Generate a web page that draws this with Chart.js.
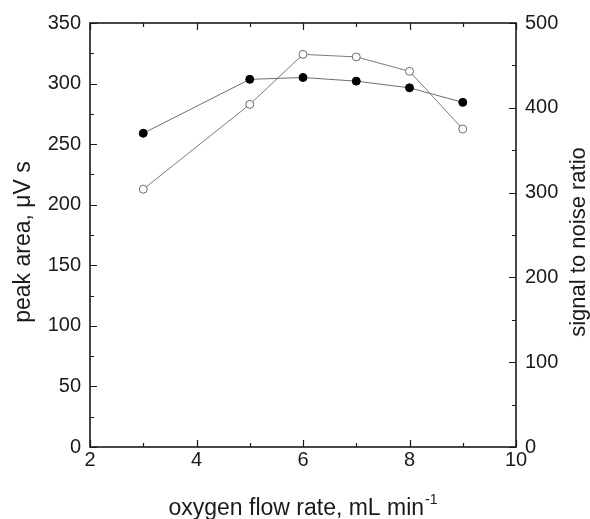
<!DOCTYPE html>
<html>
<head>
<meta charset="utf-8">
<script src="https://cdn.jsdelivr.net/npm/chart.js@4"></script>
<style>
  html, body { margin: 0; padding: 0; background: #fff; }
  canvas { display: block; }
</style>
</head>
<body>
<canvas id="chart" width="590" height="519"></canvas>
<script>
// oxygen flow rate, mL/min
const flowRates = [3, 5, 6, 7, 8, 9];
// filled circles, left axis
const peakArea = [259, 303.5, 305, 302, 296.5, 284.5];
// open circles, right axis
const signalToNoise = [304, 404, 463, 460, 443, 375];

const xTitle = 'oxygen flow rate, mL min';
const xTitleSup = '-1';
const leftTitle = 'peak area, \u03bcV s';
const rightTitle = 'signal to noise ratio';

const FONT = '"Liberation Sans", Arial, Helvetica, sans-serif';
const INK = '#1a1a1a';

function isMultiple(v, step) {
    return Math.abs(v / step - Math.round(v / step)) < 1e-6;
}

// frame, inward ticks and axis titles
const frameAndTitles = {
    id: 'frameAndTitles',
    afterDraw(chart) {
        const ctx = chart.ctx;
        const a = chart.chartArea;
        const sx = chart.scales.x, sy = chart.scales.y, sy1 = chart.scales.y1;
        ctx.save();
        ctx.strokeStyle = INK;
        ctx.lineWidth = 1.2;

        ctx.beginPath();
        sx.ticks.forEach(t => {
            const px = Math.round(sx.getPixelForValue(t.value)) + 0.5;
            const len = isMultiple(t.value, 2) ? 7 : 4;
            ctx.moveTo(px, a.bottom); ctx.lineTo(px, a.bottom - len);
            ctx.moveTo(px, a.top); ctx.lineTo(px, a.top + len);
        });
        sy.ticks.forEach(t => {
            const py = Math.round(sy.getPixelForValue(t.value)) + 0.5;
            const len = isMultiple(t.value, 50) ? 7 : 4;
            ctx.moveTo(a.left, py); ctx.lineTo(a.left + len, py);
        });
        sy1.ticks.forEach(t => {
            const py = Math.round(sy1.getPixelForValue(t.value)) + 0.5;
            const len = isMultiple(t.value, 100) ? 7 : 4;
            ctx.moveTo(a.right, py); ctx.lineTo(a.right - len, py);
        });
        ctx.stroke();

        ctx.lineWidth = 1.6;
        ctx.strokeRect(a.left, a.top, a.right - a.left, a.bottom - a.top);

        ctx.fillStyle = INK;
        ctx.textBaseline = 'alphabetic';

        // x title with superscript
        ctx.font = '23px ' + FONT;
        const w1 = ctx.measureText(xTitle).width;
        ctx.font = '14px ' + FONT;
        const w2 = ctx.measureText(xTitleSup).width;
        const x0 = (a.left + a.right) / 2 - (w1 + w2 + 1) / 2;
        ctx.textAlign = 'left';
        ctx.font = '23px ' + FONT;
        ctx.fillText(xTitle, x0, 515);
        ctx.font = '14px ' + FONT;
        ctx.fillText(xTitleSup, x0 + w1 + 1, 504);

        // y titles, reading bottom to top
        ctx.textAlign = 'center';
        ctx.save();
        ctx.font = '23px ' + FONT;
        ctx.translate(30, 242);
        ctx.rotate(-Math.PI / 2);
        ctx.fillText(leftTitle, 0, 0);
        ctx.restore();
        ctx.save();
        ctx.font = '22px ' + FONT;
        ctx.translate(585, 242);
        ctx.rotate(-Math.PI / 2);
        ctx.fillText(rightTitle, 0, 0);
        ctx.restore();

        ctx.restore();
    }
};

const tickFont = { family: FONT, size: 20 };

new Chart(document.getElementById('chart').getContext('2d'), {
    type: 'line',
    data: {
        datasets: [{
            label: 'peak area',
            data: flowRates.map((x, i) => ({ x: x, y: peakArea[i] })),
            yAxisID: 'y',
            borderColor: '#6e6e6e',
            borderWidth: 1,
            pointRadius: 4,
            pointBackgroundColor: '#000',
            pointBorderColor: '#000',
            pointBorderWidth: 1
        }, {
            label: 'signal to noise ratio',
            data: flowRates.map((x, i) => ({ x: x, y: signalToNoise[i] })),
            yAxisID: 'y1',
            borderColor: '#7a7a7a',
            borderWidth: 1,
            pointRadius: 4,
            pointBackgroundColor: '#fff',
            pointBorderColor: '#6a6a6a',
            pointBorderWidth: 1
        }]
    },
    options: {
        responsive: false,
        animation: false,
        layout: { padding: { top: 23, left: 0, right: 0, bottom: 0 } },
        plugins: {
            legend: { display: false },
            tooltip: { enabled: false }
        },
        scales: {
            x: {
                type: 'linear',
                min: 2,
                max: 10,
                grid: { display: false, drawTicks: false },
                border: { display: false },
                ticks: {
                    stepSize: 1,
                    autoSkip: false,
                    maxRotation: 0,
                    padding: 1,
                    color: INK,
                    font: tickFont,
                    callback: v => isMultiple(v, 2) ? v : ''
                },
                afterFit: s => { s.height = 72; }
            },
            y: {
                position: 'left',
                min: 0,
                max: 350,
                grid: { display: false, drawTicks: false },
                border: { display: false },
                ticks: {
                    stepSize: 25,
                    autoSkip: false,
                    padding: 9,
                    color: INK,
                    font: tickFont,
                    callback: v => isMultiple(v, 50) ? v : ''
                },
                afterFit: s => { s.width = 90; }
            },
            y1: {
                position: 'right',
                min: 0,
                max: 500,
                grid: { display: false, drawTicks: false },
                border: { display: false },
                ticks: {
                    stepSize: 50,
                    autoSkip: false,
                    padding: 9,
                    color: INK,
                    font: tickFont,
                    callback: v => isMultiple(v, 100) ? v : ''
                },
                afterFit: s => { s.width = 74; }
            }
        }
    },
    plugins: [frameAndTitles]
});
</script>
</body>
</html>
